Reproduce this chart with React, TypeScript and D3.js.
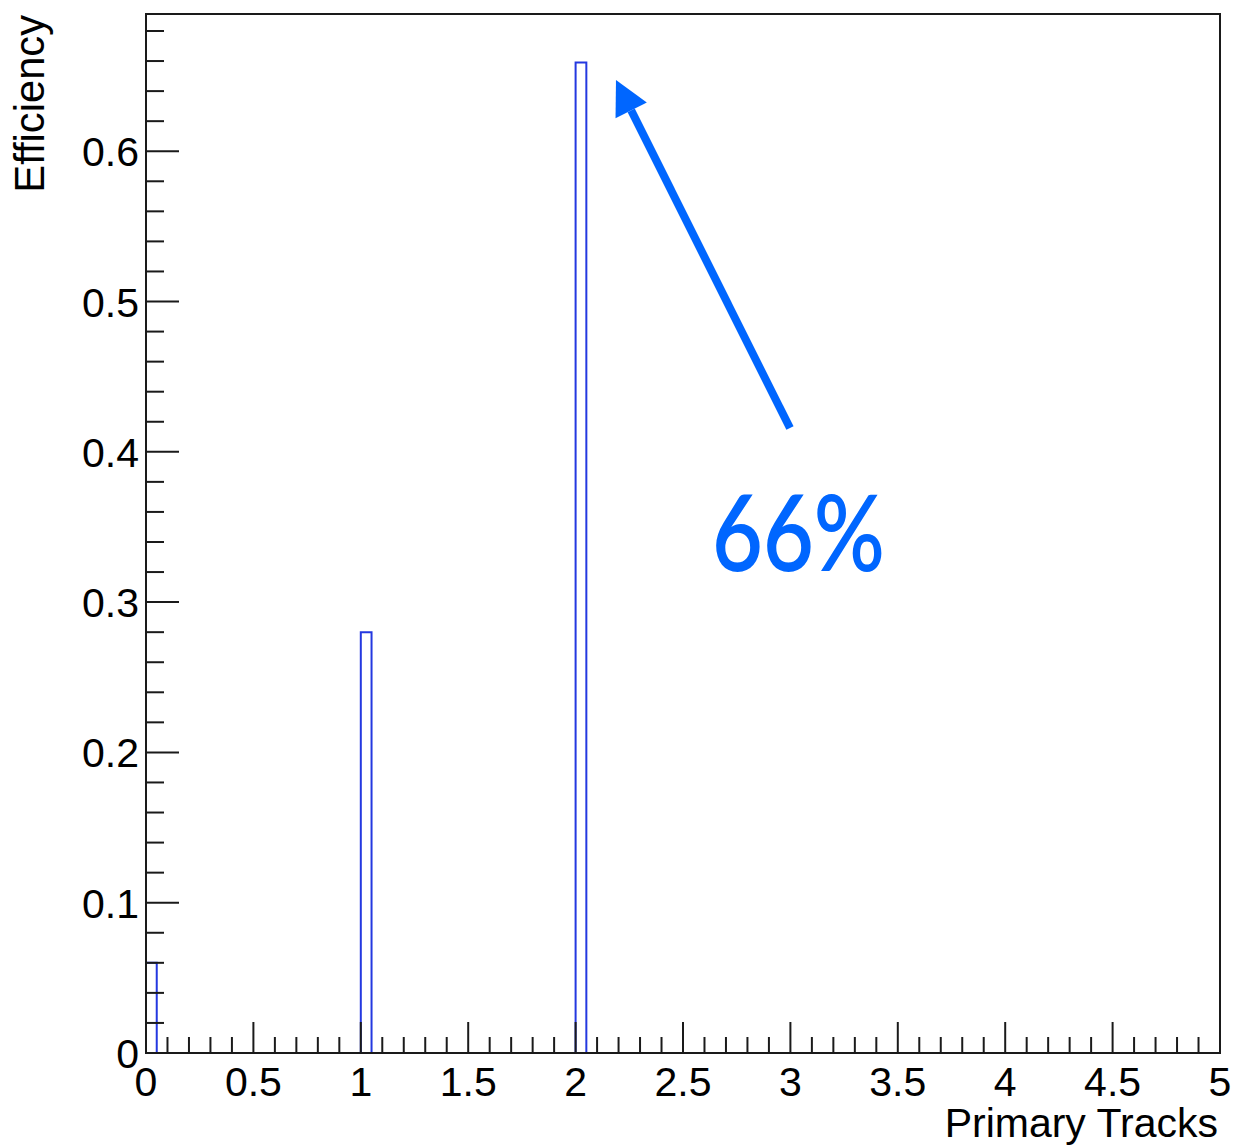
import React from "react";
import * as d3 from "d3";

// ---- data ----
const binStarts = [0, 1, 2];
const efficiency = [0.06, 0.28, 0.659];
const binWidth = 0.05;
const xMajorTicks = [0, 0.5, 1, 1.5, 2, 2.5, 3, 3.5, 4, 4.5, 5];
const xTickLabels = ["0", "0.5", "1", "1.5", "2", "2.5", "3", "3.5", "4", "4.5", "5"];
const yMajorTicks = [0, 0.1, 0.2, 0.3, 0.4, 0.5, 0.6];
const yTickLabels = ["0", "0.1", "0.2", "0.3", "0.4", "0.5", "0.6"];
const annotationText = "66%";
const arrowTail = [2.998, 0.4158];
const arrowTip = [2.188, 0.6474];
const annotationPos = [2.635, 0.3207];

const W = 1244;
const H = 1148;
const L = 146, R = 1220, T = 14, B = 1053;

export default function App() {
  const x = d3.scaleLinear().domain([0, 5]).range([L, R]);
  const y = d3.scaleLinear().domain([0, 0.6913]).range([B, T]);

  const xMinor = d3.range(0, 5.0001, 0.1).filter(
    (v) => Math.abs(v * 2 - Math.round(v * 2)) > 1e-6
  );
  const yMinor = d3.range(0, 0.69, 0.02).filter(
    (v) => Math.abs(v * 10 - Math.round(v * 10)) > 1e-6
  );

  const font = "'Liberation Sans', Arial, Helvetica, sans-serif";
  const blue = "#0066ff";

  // arrow geometry
  const tx = x(arrowTail[0]), ty = y(arrowTail[1]);
  const hx = x(arrowTip[0]), hy = y(arrowTip[1]);
  const len = Math.hypot(hx - tx, hy - ty);
  const ux = (hx - tx) / len, uy = (hy - ty) / len;
  const headLen = 34, headHalf = 17.5;
  const bx = hx - ux * headLen, by = hy - uy * headLen;
  const px = -uy, py = ux;
  const headPts = [
    [hx, hy],
    [bx + px * headHalf, by + py * headHalf],
    [bx - px * headHalf, by - py * headHalf],
  ];

  return (
    <svg
      width={W}
      height={H}
      style={{ position: "absolute", left: 0, top: 0, display: "block", background: "#fff" }}
    >
      <rect x={0} y={0} width={W} height={H} fill="#fff" />
      {/* histogram bars */}
      {binStarts.map((s, i) => {
        const x0 = x(s), x1 = x(s + binWidth), yv = y(efficiency[i]);
        return (
          <path
            key={i}
            d={`M${x0},${B}V${yv}H${x1}V${B}`}
            fill="none"
            stroke="#2438e0"
            strokeWidth={2}
          />
        );
      })}
      {/* frame */}
      <rect x={L} y={T} width={R - L} height={B - T} fill="none" stroke="#1a1a1a" strokeWidth={2} />
      {/* y ticks */}
      {yMajorTicks.map((v) => (
        <line key={"ym" + v} x1={L} x2={L + 33} y1={y(v)} y2={y(v)} stroke="#1a1a1a" strokeWidth={2} />
      ))}
      {yMinor.map((v) => (
        <line key={"yn" + v} x1={L} x2={L + 18} y1={y(v)} y2={y(v)} stroke="#1a1a1a" strokeWidth={2} />
      ))}
      {/* x ticks */}
      {xMajorTicks.map((v) => (
        <line key={"xm" + v} x1={x(v)} x2={x(v)} y1={B} y2={B - 31} stroke="#1a1a1a" strokeWidth={2} />
      ))}
      {xMinor.map((v) => (
        <line key={"xn" + v} x1={x(v)} x2={x(v)} y1={B} y2={B - 16} stroke="#1a1a1a" strokeWidth={2} />
      ))}
      {/* tick labels */}
      {yMajorTicks.map((v, i) => (
        <text
          key={"yl" + v}
          x={139}
          y={y(v) + 15}
          textAnchor="end"
          fontFamily={font}
          fontSize={41}
          fill="#000"
        >
          {yTickLabels[i]}
        </text>
      ))}
      {xMajorTicks.map((v, i) => (
        <text
          key={"xl" + v}
          x={x(v)}
          y={1096}
          textAnchor="middle"
          fontFamily={font}
          fontSize={41}
          fill="#000"
        >
          {xTickLabels[i]}
        </text>
      ))}
      {/* axis titles */}
      <text x={1218} y={1137} textAnchor="end" fontFamily={font} fontSize={41} fill="#000">
        Primary Tracks
      </text>
      <text
        transform="translate(44,15) rotate(-90)"
        textAnchor="end"
        fontFamily={font}
        fontSize={41.7}
        fill="#000"
      >
        Efficiency
      </text>
      {/* annotation arrow */}
      <line x1={tx} y1={ty} x2={bx} y2={by} stroke={blue} strokeWidth={8} />
      <polygon points={headPts.map((p) => p.join(",")).join(" ")} fill={blue} />
      <text
        x={x(annotationPos[0])}
        y={y(annotationPos[1])}
        fontFamily="Lato, 'Open Sans', sans-serif"
        fontWeight={600}
        fontSize={106}
        fill={blue}
        textLength={173}
        lengthAdjust="spacingAndGlyphs"
      >
        {annotationText}
      </text>
    </svg>
  );
}
